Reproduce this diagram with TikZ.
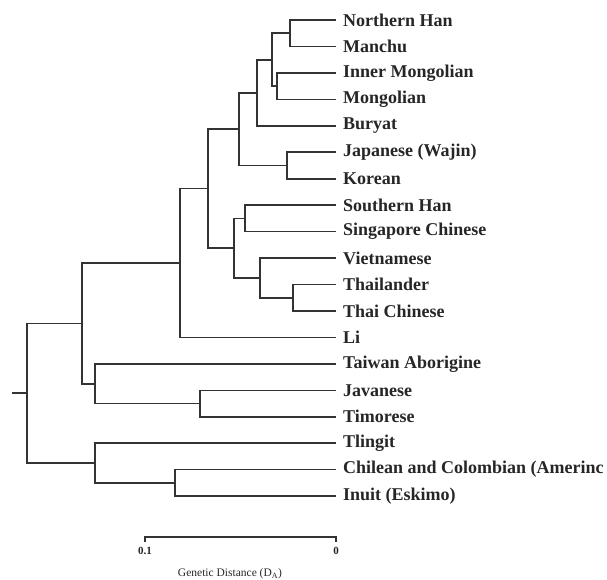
\documentclass[tikz,border=0pt]{standalone}
\usepackage{fontspec}
\setmainfont{Liberation Serif}
\usetikzlibrary{positioning}
\tikzset{
x=1pt, y=-1pt, % one unit is one pixel of the scan, y runs down
branch/.style={line width=1.6pt, draw=black!80, line cap=rect}, % the tree lines
taxon/.style={anchor=west, inner sep=0pt, text=black!85, font=\bfseries\fontsize{18}{20}\selectfont}, % population names
scalelabel/.style={inner sep=0pt, text=black!85, font=\fontsize{11.5}{13}\selectfont}, % text under the scale bar
}

\begin{document}
\begin{tikzpicture}
        \useasboundingbox (0,0) rectangle (607,579);
        % leaves
        \foreach \name [count=\i] in {Northern Han, Manchu, Inner Mongolian, Mongolian, Buryat,
          {Japanese (Wajin)}, Korean, Southern Han, Singapore Chinese, Vietnamese, Thailander,
          Thai Chinese, Li, Taiwan Aborigine, Javanese, Timorese, Tlingit,
          {Chilean and Colombian (Amerinc}, {Inuit (Eskimo)}}
        {
          \coordinate (l\i) at (335, 20+26.45*\i-26.45);
          \node[taxon, right=8pt of l\i] (t\i) {\name};
        }
        % inner nodes
        \coordinate (n1) at (290,33.2);
        \coordinate (n2) at (277,86.1);
        \coordinate (n3) at (272,59.7);
        \coordinate (n4) at (257,92.75);
        \coordinate (n5) at (287,165.5);
        \coordinate (n6) at (239,129.1);
        \coordinate (n7) at (245,218.4);
        \coordinate (n8) at (293,297.7);
        \coordinate (n9) at (260,277.9);
        \coordinate (n10) at (234,248.15);
        \coordinate (n11) at (208,188.6);
        \coordinate (n12) at (180,263);
        \coordinate (n13) at (200,403.5);
        \coordinate (n14) at (95,383.7);
        \coordinate (n15) at (82,323.35);
        \coordinate (n16) at (175,482.9);
        \coordinate (n17) at (95,463.05);
        \coordinate (root) at (27,393.2);
        \coordinate (stub) at (13,393.2);
        % branches
        \draw[branch] (l1) -| (n1) |- (l2);
        \draw[branch] (l3) -| (n2) |- (l4);
        \draw[branch] (n1) -| (n3) |- (n2);
        \draw[branch] (n3) -| (n4) |- (l5);
        \draw[branch] (l6) -| (n5) |- (l7);
        \draw[branch] (n4) -| (n6) |- (n5);
        \draw[branch] (l8) -| (n7) |- (l9);
        \draw[branch] (l11) -| (n8) |- (l12);
        \draw[branch] (l10) -| (n9) |- (n8);
        \draw[branch] (n7) -| (n10) |- (n9);
        \draw[branch] (n6) -| (n11) |- (n10);
        \draw[branch] (n11) -| (n12) |- (l13);
        \draw[branch] (l15) -| (n13) |- (l16);
        \draw[branch] (l14) -| (n14) |- (n13);
        \draw[branch] (n12) -| (n15) |- (n14);
        \draw[branch] (l18) -| (n16) |- (l19);
        \draw[branch] (l17) -| (n17) |- (n16);
        \draw[branch] (n15) -| (root) |- (n17);
        \draw[branch] (stub) -- (root);
        % scale bar
        \coordinate (s0) at (145,537);
        \coordinate (s1) at (336,537);
        \draw[branch, line width=1.3pt] ([yshift=-4pt]s0) -- (s0) -- (s1) -- ([yshift=-4pt]s1);
        \node[scalelabel, font=\bfseries\fontsize{11}{12}\selectfont, below=10pt of s0] (lo) {0.1};
        \node[scalelabel, font=\bfseries\fontsize{11}{12}\selectfont, below=10pt of s1] (hi) {0};
        \node[scalelabel] (axis) at (230,574) {Genetic Distance (D\textsubscript{A})};
\end{tikzpicture}
\end{document}
